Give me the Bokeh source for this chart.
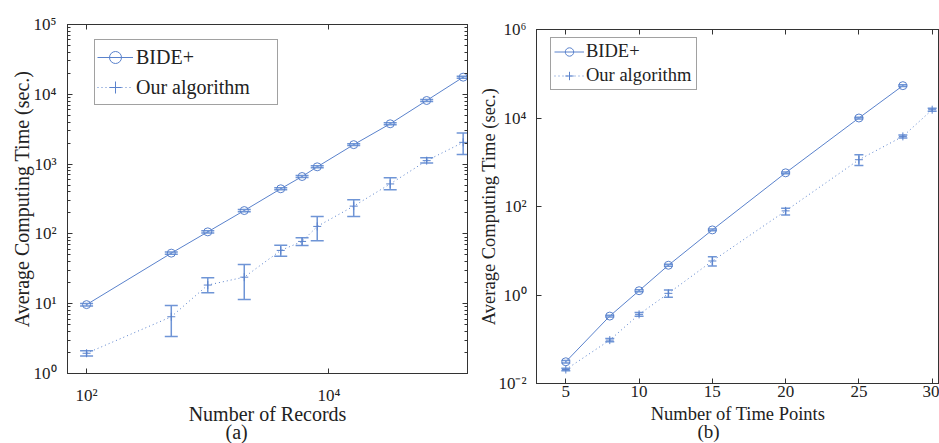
from bokeh.plotting import figure
from bokeh.models import (LogAxis, LinearAxis, FixedTicker, Range1d, Legend,
                          LegendItem, Title)
from bokeh.layouts import row
from bokeh.embed import file_html
from bokeh.resources import INLINE

FONT = "Liberation Serif"
BLUE = "#5a82cc"
ERR = "#6f95d6"
AX = "#333333"

# ---------------- data (a) ----------------
records = [100, 500, 1000, 2000, 4000, 6000, 8000, 16000, 32000, 64000, 128000]
bide_a = [9.7, 53, 107, 216, 443, 664, 914, 1900, 3780, 8150, 17600]
bide_a_lo = [9.3, 51, 103, 208, 428, 642, 884, 1840, 3660, 7900, 17000]
bide_a_hi = [10.1, 55, 111, 224, 458, 686, 944, 1960, 3900, 8400, 18200]
ours_a = [1.95, 6.5, 18.5, 24, 58, 78, 128, 250, 520, 1120, 2050]
ours_a_lo = [1.78, 3.4, 14.3, 11.5, 48, 68, 80, 177, 428, 1040, 1370]
ours_a_hi = [2.12, 9.4, 23.5, 36.5, 69, 88, 177, 308, 635, 1230, 2800]

xticks_a = [100, 10000]
xlabels_a = ["10\u00b2", "10\u2074"]
yticks_a = [1, 10, 100, 1000, 10000, 100000]
ylabels_a = ["10\u2070", "10\u00b9", "10\u00b2", "10\u00b3", "10\u2074", "10\u2075"]
yminor_a = [m * d for d in [1, 10, 100, 1000, 10000] for m in range(2, 10)]

# ---------------- data (b) ----------------
tp_bide = [5, 8, 10, 12, 15, 20, 25, 28]
bide_b = [0.031, 0.334, 1.25, 4.7, 29.6, 577, 10000, 53800]
bide_b_lo = [0.029, 0.318, 1.19, 4.45, 28.2, 550, 9550, 51500]
bide_b_hi = [0.033, 0.350, 1.31, 4.95, 31.0, 605, 10450, 56200]
tp_ours = [5, 8, 10, 12, 15, 20, 25, 28, 30]
ours_b = [0.0207, 0.0955, 0.365, 1.09, 5.87, 79.6, 1140, 3840, 15400]
ours_b_lo = [0.0195, 0.088, 0.33, 0.89, 4.53, 64.6, 845, 3550, 14300]
ours_b_hi = [0.0220, 0.104, 0.40, 1.29, 7.35, 91, 1480, 4150, 16600]

xticks_b = [5, 10, 15, 20, 25, 30]
yticks_b = [0.01, 1, 100, 10000, 1000000]
ylabels_b = ["10\u207b\u00b2", "10\u2070", "10\u00b2", "10\u2074", "10\u2076"]


def style_axis(ax, size, standoff):
    ax.axis_line_color = AX
    ax.major_tick_line_color = AX
    ax.minor_tick_line_color = AX
    ax.major_tick_in = 5
    ax.major_tick_out = 0
    ax.minor_tick_in = 3
    ax.minor_tick_out = 0
    ax.major_label_text_font = FONT
    ax.major_label_text_font_size = size
    ax.major_label_text_color = "#222222"
    ax.major_label_standoff = standoff
    ax.axis_label_text_font = FONT
    ax.axis_label_text_font_style = "normal"
    ax.axis_label_text_color = "#222222"


def mirror_axis(cls, ticker):
    ax = cls(ticker=ticker)
    ax.axis_line_color = AX
    ax.major_tick_line_color = AX
    ax.minor_tick_line_color = AX
    ax.major_tick_in = 5
    ax.major_tick_out = 0
    ax.minor_tick_in = 3
    ax.minor_tick_out = 0
    ax.major_label_text_font_size = "1px"
    ax.major_label_text_alpha = 0
    ax.major_label_standoff = 0
    return ax


def draw_series(p, x, y, lo, hi, cap, dash, marker, msize):
    ln = p.line(x, y, line_color=BLUE, line_width=1, line_dash=dash)
    p.segment(x0=x, y0=lo, x1=x, y1=hi, line_color=ERR, line_width=1.5)
    p.scatter(x, lo, marker="dash", size=cap, line_color=ERR, line_width=1.5)
    p.scatter(x, hi, marker="dash", size=cap, line_color=ERR, line_width=1.5)
    sc = p.scatter(x, y, marker=marker, size=msize, line_color=BLUE,
                   fill_color=None, line_width=1)
    return ln, sc


def caption(text, size, offset, standoff):
    return Title(text=text, align="left", offset=offset, standoff=standoff,
                 text_font=FONT, text_font_size=size, text_font_style="normal",
                 text_color="#222222")


# ================= figure (a) =================
pa = figure(width=470, height=443, x_axis_type="log", y_axis_type="log",
            x_range=Range1d(69.6, 139000), y_range=Range1d(1, 100000),
            output_backend="svg", toolbar_location=None,
            min_border_left=67, min_border_right=3, min_border_top=24,
            min_border_bottom=70)
pa.frame_align = False
pa.grid.visible = False
pa.outline_line_color = AX
pa.outline_line_alpha = 1
pa.background_fill_color = "white"
pa.border_fill_color = "white"

pa.xaxis.ticker = FixedTicker(ticks=xticks_a, minor_ticks=[])
pa.xaxis.major_label_overrides = dict(zip(xticks_a, xlabels_a))
pa.yaxis.ticker = FixedTicker(ticks=yticks_a, minor_ticks=yminor_a)
pa.yaxis.major_label_overrides = dict(zip(yticks_a, ylabels_a))
for ax in pa.xaxis:
    style_axis(ax, "17px", 12)
    ax.axis_label = "Number of Records"
    ax.axis_label_text_font_size = "20px"
    ax.axis_label_standoff = -5
for ax in pa.yaxis:
    style_axis(ax, "17px", 11)
    ax.axis_label = "Average Computing Time (sec.)"
    ax.axis_label_text_font_size = "20px"
    ax.axis_label_standoff = -2
pa.add_layout(mirror_axis(LogAxis, FixedTicker(ticks=yticks_a, minor_ticks=yminor_a)), "right")
pa.add_layout(mirror_axis(LogAxis, FixedTicker(ticks=xticks_a, minor_ticks=[])), "above")
pa.add_layout(caption("(a)", "20px", 158, -18), "below")

la1, sa1 = draw_series(pa, records, bide_a, bide_a_lo, bide_a_hi, 13, "solid", "circle", 8)
la2, sa2 = draw_series(pa, records, ours_a, ours_a_lo, ours_a_hi, 13, "1 3", "cross", 8)

leg_a = Legend(items=[LegendItem(label="BIDE+", renderers=[la1, sa1]),
                      LegendItem(label="Our algorithm", renderers=[la2, sa2])],
               location=(27, 268), padding=2, spacing=0, margin=0,
               label_height=30, glyph_height=30, glyph_width=36,
               label_width=139, label_standoff=3,
               label_text_font=FONT, label_text_font_size="20px",
               label_text_color="#222222",
               border_line_color="#444444", border_line_width=1,
               background_fill_color="white", background_fill_alpha=1)
pa.add_layout(leg_a, "center")

# ================= figure (b) =================
pb = figure(width=469, height=443, y_axis_type="log",
            x_range=Range1d(3, 30.5), y_range=Range1d(0.01, 1000000),
            output_backend="svg", toolbar_location=None,
            min_border_left=66, min_border_right=0, min_border_top=29,
            min_border_bottom=60)
pb.frame_align = False
pb.grid.visible = False
pb.outline_line_color = AX
pb.outline_line_alpha = 1
pb.background_fill_color = "white"
pb.border_fill_color = "white"

pb.xaxis.ticker = FixedTicker(ticks=xticks_b, minor_ticks=[])
pb.yaxis.ticker = FixedTicker(ticks=yticks_b, minor_ticks=[])
pb.yaxis.major_label_overrides = dict(zip(yticks_b, ylabels_b))
for ax in pb.xaxis:
    style_axis(ax, "17px", 2)
    ax.axis_label = "Number of Time Points"
    ax.axis_label_text_font_size = "18.5px"
    ax.axis_label_standoff = 4
for ax in pb.yaxis:
    style_axis(ax, "17px", 10)
    ax.axis_label = "Average Computing Time (sec.)"
    ax.axis_label_text_font_size = "18.5px"
    ax.axis_label_standoff = -4
pb.add_layout(mirror_axis(LinearAxis, FixedTicker(ticks=xticks_b, minor_ticks=[])), "above")
pb.add_layout(caption("(b)", "19px", 161, -15), "below")

lb1, sb1 = draw_series(pb, tp_bide, bide_b, bide_b_lo, bide_b_hi, 9, "solid", "circle", 8)
lb2, sb2 = draw_series(pb, tp_ours, ours_b, ours_b_lo, ours_b_hi, 9, "1 3", "cross", 8)

leg_b = Legend(items=[LegendItem(label="BIDE+", renderers=[lb1, sb1]),
                      LegendItem(label="Our algorithm", renderers=[lb2, sb2])],
               location=(14, 293), padding=3, spacing=3, margin=0,
               label_height=21, glyph_height=21, glyph_width=30,
               label_width=107, label_standoff=2,
               label_text_font=FONT, label_text_font_size="18.5px",
               label_text_color="#222222",
               border_line_color="#444444", border_line_width=1,
               background_fill_color="white", background_fill_alpha=1)
pb.add_layout(leg_b, "center")

layout = row(pa, pb)
open("out.html", "w").write(file_html(layout, INLINE))
